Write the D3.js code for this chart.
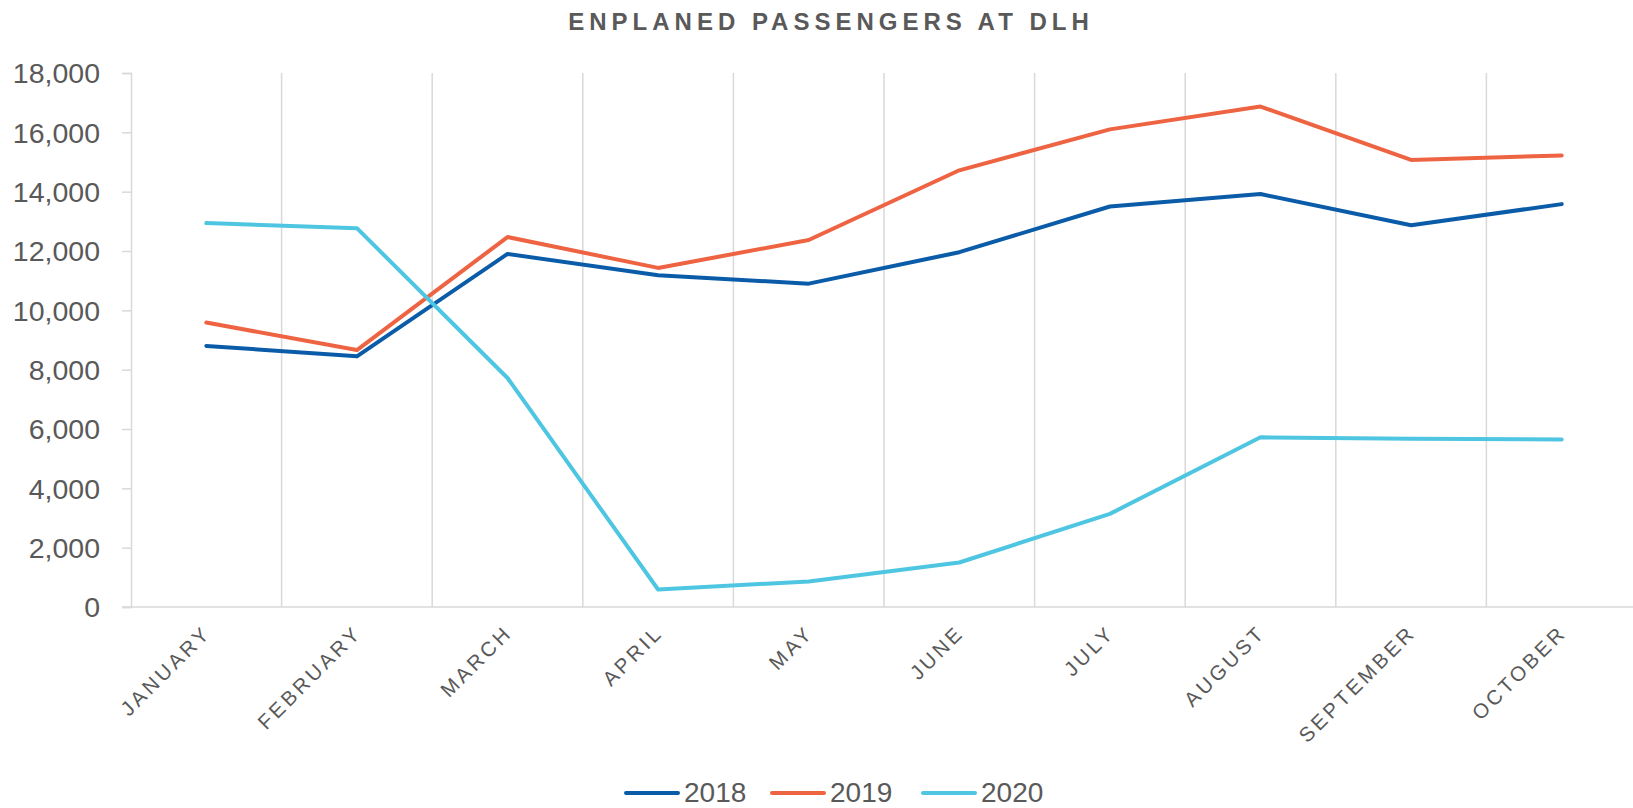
<!DOCTYPE html>
<html>
<head>
<meta charset="utf-8">
<script src="https://cdn.jsdelivr.net/npm/d3@7"></script>
<style>
  body { margin: 0; background: #fff; }
  svg { display: block; font-family: "Liberation Sans", Arial, sans-serif; }
</style>
</head>
<body>
<svg id="chart"></svg>
<script>
// donnees
var months = ["JANUARY", "FEBRUARY", "MARCH", "APRIL", "MAY", "JUNE", "JULY", "AUGUST", "SEPTEMBER", "OCTOBER"];
var years = ["2018", "2019", "2020"];
var y2018 = [8800, 8450, 11900, 11180, 10900, 11960, 13500, 13920, 12870, 13580];
var y2019 = [9590, 8660, 12470, 11430, 12370, 14720, 16100, 16870, 15070, 15220];
var y2020 = [12940, 12770, 7720, 590, 860, 1500, 3140, 5720, 5670, 5650];
var yTicks = [0, 2000, 4000, 6000, 8000, 10000, 12000, 14000, 16000, 18000];
var colors = ["#0b5ca8", "#ee6443", "#4fc6e1"];

var width = 1633, height = 808;
var margin = {top: 73, right: -4, bottom: 201, left: 131};

var svg = d3.select("#chart")
  .attr("width", width)
  .attr("height", height);

var x = d3.scaleBand()
  .domain(months)
  .range([margin.left, width - margin.right]);

var y = d3.scaleLinear()
  .domain([0, 18000])
  .range([height - margin.bottom, margin.top]);

var grey = "#d9d9d9";
var textCol = "#595959";

// grille verticale entre les categories
svg.append("g")
  .selectAll("line")
  .data(months.slice(1))
  .join("line")
  .attr("x1", d => x(d))
  .attr("x2", d => x(d))
  .attr("y1", y(18000))
  .attr("y2", y(0))
  .attr("stroke", grey)
  .attr("stroke-width", 1.5);

// axe y
var yAxis = svg.append("g")
  .attr("transform", `translate(${margin.left},0)`)
  .call(d3.axisLeft(y).tickValues(yTicks).tickSize(9).tickPadding(22).tickFormat(d3.format(",")));
yAxis.select(".domain").attr("stroke", grey).attr("stroke-width", 1.5);
yAxis.selectAll(".tick line").attr("stroke", grey).attr("stroke-width", 1.5);
yAxis.selectAll("text")
  .attr("fill", textCol)
  .attr("font-size", "28.5px")
  .attr("font-family", "Liberation Sans, Arial, sans-serif")
  .attr("dy", "0.35em");

// axe x (ligne de base)
svg.append("line")
  .attr("x1", margin.left - 9)
  .attr("x2", width)
  .attr("y1", y(0))
  .attr("y2", y(0))
  .attr("stroke", grey)
  .attr("stroke-width", 1.5);

// etiquettes des mois
svg.append("g")
  .selectAll("text")
  .data(months)
  .join("text")
  .attr("transform", d => `translate(${x(d) + x.bandwidth() / 2 + 6},${y(0) + 27}) rotate(-45)`)
  .attr("text-anchor", "end")
  .attr("fill", textCol)
  .attr("font-size", "20.5px")
  .attr("letter-spacing", "3.2px")
  .text(d => d);

// lignes
var series = [y2018, y2019, y2020];
var line = d3.line()
  .x((d, i) => x(months[i]) + x.bandwidth() / 2)
  .y(d => y(d));

svg.append("g")
  .selectAll("path")
  .data(series)
  .join("path")
  .attr("fill", "none")
  .attr("stroke", (d, i) => colors[i])
  .attr("stroke-width", 4)
  .attr("stroke-linejoin", "round")
  .attr("stroke-linecap", "round")
  .attr("d", line);

// titre
svg.append("text")
  .attr("x", 831)
  .attr("y", 29.5)
  .attr("text-anchor", "middle")
  .attr("fill", textCol)
  .attr("font-size", "24px")
  .attr("font-weight", "bold")
  .attr("letter-spacing", "5px")
  .text("ENPLANED PASSENGERS AT DLH");

// legende
var legX = [626, 772, 923];
var leg = svg.append("g")
  .selectAll("g")
  .data(years)
  .join("g")
  .attr("transform", (d, i) => `translate(${legX[i]},793)`);
leg.append("line")
  .attr("x1", 0).attr("x2", 52)
  .attr("stroke", (d, i) => colors[i])
  .attr("stroke-width", 4)
  .attr("stroke-linecap", "round");
leg.append("text")
  .attr("x", 58)
  .attr("y", 9)
  .attr("fill", textCol)
  .attr("font-size", "28px")
  .text(d => d);
</script>
</body>
</html>
